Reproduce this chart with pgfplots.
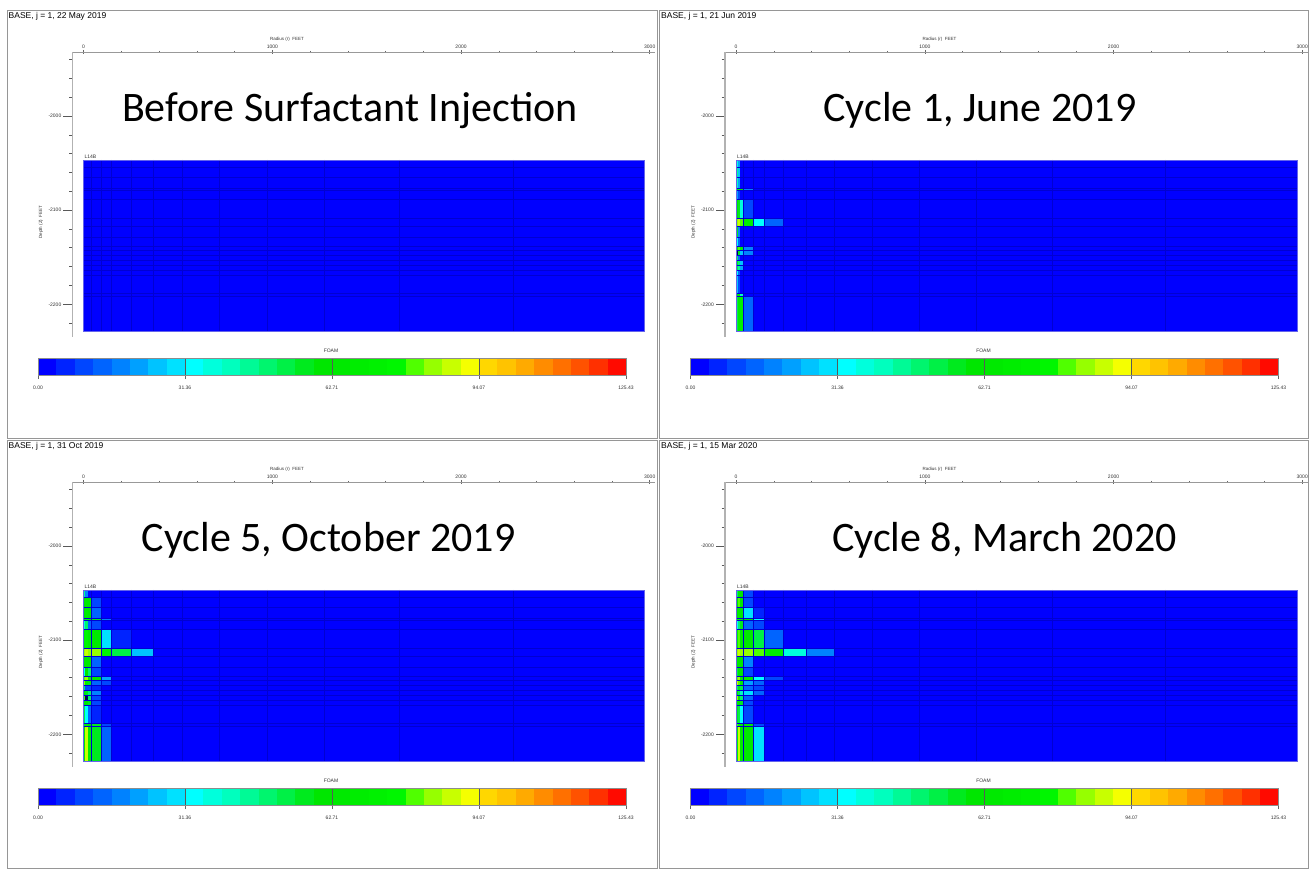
\documentclass[border=0pt]{standalone}
\usepackage{pgfplots}
\pgfplotsset{compat=1.18}
\usepackage{fontspec}
\setmainfont{Liberation Sans}
\newfontfamily\calib{Carlito}

\definecolor{f0}{RGB}{0,0,255}
\definecolor{f1}{RGB}{0,35,255}
\definecolor{f2}{RGB}{0,70,255}
\definecolor{f3}{RGB}{0,100,255}
\definecolor{f4}{RGB}{0,130,255}
\definecolor{f5}{RGB}{0,160,255}
\definecolor{f6}{RGB}{0,195,255}
\definecolor{f7}{RGB}{0,225,255}
\definecolor{f8}{RGB}{0,255,255}
\definecolor{f9}{RGB}{0,255,220}
\definecolor{f10}{RGB}{0,255,190}
\definecolor{f11}{RGB}{0,250,150}
\definecolor{f12}{RGB}{0,245,110}
\definecolor{f13}{RGB}{0,240,70}
\definecolor{f14}{RGB}{0,234,30}
\definecolor{f15}{RGB}{0,230,0}
\definecolor{f16}{RGB}{0,233,0}
\definecolor{f17}{RGB}{0,237,0}
\definecolor{f18}{RGB}{0,241,0}
\definecolor{f19}{RGB}{0,246,0}
\definecolor{f20}{RGB}{80,255,0}
\definecolor{f21}{RGB}{150,255,0}
\definecolor{f22}{RGB}{200,255,0}
\definecolor{f23}{RGB}{245,255,0}
\definecolor{f24}{RGB}{255,215,0}
\definecolor{f25}{RGB}{255,195,0}
\definecolor{f26}{RGB}{255,170,0}
\definecolor{f27}{RGB}{255,140,0}
\definecolor{f28}{RGB}{255,112,0}
\definecolor{f29}{RGB}{255,82,0}
\definecolor{f30}{RGB}{255,48,0}
\definecolor{f31}{RGB}{255,10,0}
\definecolor{f32}{RGB}{0,0,90}
\definecolor{framec}{RGB}{150,150,150}
\definecolor{bordc}{RGB}{100,100,235}
\definecolor{gridc}{RGB}{0,0,210}

% radial cell boundaries (ft)
\def\colb{{0,9,21,39,92,148,250,369,522,720,970,1273,1674,2276,2971}}
% one row of cells: top depth, bottom depth, colour bins from the well outwards
\newcommand{\crow}[3]{%
  \foreach \k [count=\i from 0] in {#3}{%
    \pgfmathsetmacro\xa{\colb[\i]}%
    \pgfmathsetmacro\xb{\colb[\i+1]}%
    \edef\temp{\noexpand\addplot[draw=none,fill=f\k] coordinates {(\xa,#1) (\xb,#1) (\xb,#2) (\xa,#2)};}%
    \temp}}

\newcommand{\gridl}{%
  \pgfplotsinvokeforeach{39,92,148,250,369,522,720,970,1273,1674,2276}{%
    \addplot[gridc, line width=0.3pt] coordinates {(##1,-2046.7) (##1,-2228.7)};}
  \pgfplotsinvokeforeach{-2053.8,-2064.4,-2076.7,-2079.2,-2088.3,-2108.5,-2116.6,-2128.6,-2138.6,-2142.8,-2148.1,-2152.7,-2158.0,-2163.3,-2168.6,-2188.0,-2191.6}{%
    \addplot[gridc, line width=0.3pt] coordinates {(0,##1) (2971,##1)};}}

\newcommand{\cb}[2]{\addplot[draw=none,fill=f#1] coordinates {(#1,0) (#2,0) (#2,1) (#1,1)};}
\newcommand{\colorbins}{\cb{0}{1}\cb{1}{2}\cb{2}{3}\cb{3}{4}\cb{4}{5}\cb{5}{6}\cb{6}{7}\cb{7}{8}%
\cb{8}{9}\cb{9}{10}\cb{10}{11}\cb{11}{12}\cb{12}{13}\cb{13}{14}\cb{14}{15}\cb{15}{16}%
\cb{16}{17}\cb{17}{18}\cb{18}{19}\cb{19}{20}\cb{20}{21}\cb{21}{22}\cb{22}{23}\cb{23}{24}%
\cb{24}{25}\cb{25}{26}\cb{26}{27}\cb{27}{28}\cb{28}{29}\cb{29}{30}\cb{30}{31}\cb{31}{32}}

\pgfplotsset{
  resaxis/.style={
    anchor=north west,
    x=0.1887pt, y=0.9415pt,
    xmin=-59, xmax=3030, ymin=-2234.4, ymax=-1932,
    axis x line*=top, axis y line*=left,
    x axis line style={draw=black!40, line width=0.8pt},
    y axis line style={draw=black!30, line width=1.5pt},
    xtick={0,1000,2000,3000}, xticklabels={0,1000,2000,3000},
    minor xtick={200,400,...,2800},
    ytick={-2200,-2100,-2000}, yticklabels={-2200,-2100,-2000},
    minor ytick={-2220,-2200,...,-1940},
    xtick align=center, ytick align=outside,
    major tick length=9pt, minor tick length=3.5pt,
    xtick style={/pgfplots/major tick length=4.5pt, /pgfplots/minor tick length=2.5pt, black!60, line width=0.5pt},
    ytick style={black!65, line width=0.7pt},
    tick label style={font=\fontsize{5}{6}\selectfont, text=black!80},
    xticklabel style={inner sep=0pt, yshift=-1pt},
    yticklabel style={inner sep=2pt},
  },
  cbaxis/.style={
    anchor=north west, scale only axis, width=588pt, height=17pt,
    xmin=0, xmax=32, ymin=0, ymax=1,
    axis on top, ytick=\empty,
    xtick={0,8,16,24,32}, xticklabels={0.00,31.36,62.71,94.07,125.43},
    xtick pos=left,
    xmajorgrids, grid style={black!65, line width=0.4pt},
    xtick align=outside, major tick length=4pt,
    axis line style={draw=black!45, line width=0.4pt},
    tick style={black!60, line width=0.4pt},
    xticklabel style={font=\fontsize{5}{6}\selectfont, inner sep=2pt, yshift=-5pt, text=black!80},
  },
}

\newcommand{\panel}[4]{%
\begin{axis}[resaxis, at={({(72.5+#1)*1pt},{-(52+#2)*1pt})}]
  \addplot[draw=none, fill=f0] coordinates {(0,-2046.7) (2971,-2046.7) (2971,-2228.7) (0,-2228.7)};
  #4
  \gridl
  \addplot[draw=bordc, line width=0.5pt] coordinates {(0,-2046.7) (2971,-2046.7) (2971,-2228.7) (0,-2228.7) (0,-2046.7)};
  \node[anchor=south west, font=\fontsize{5}{6}\selectfont, inner sep=0.8pt, text=black!80] at (axis cs:0,-2046.7) {L14B};
\end{axis}
\begin{axis}[cbaxis, at={({(38+#1)*1pt},{-(358+#2)*1pt})}]
  \colorbins
\end{axis}
\node[anchor=west, font=\fontsize{8.5}{10}\selectfont, inner sep=0pt] at ({(8.5+#1)*1pt},{-(16+#2)*1pt}) {#3};
\node[font=\fontsize{5}{6}\selectfont, inner sep=0pt, text=black!80] at ({(331+#1)*1pt},{-(351+#2)*1pt}) {FOAM};
\node[font=\fontsize{4.5}{5}\selectfont, inner sep=0pt, text=black!80] at ({(287+#1)*1pt},{-(39+#2)*1pt}) {Radius (r)\ \ FEET};
\node[font=\fontsize{4.5}{5}\selectfont, inner sep=0pt, rotate=90, text=black!80] at ({(41+#1)*1pt},{-(222+#2)*1pt}) {Depth (Z)\ \ FEET};
}

\begin{document}
\begin{tikzpicture}
\fill[white] (0,0) rectangle (1310pt,-870pt);
\useasboundingbox (0,0) rectangle (1310pt,-870pt);
\draw[framec, line width=0.8pt] (7pt,-10pt) rectangle (657pt,-438pt);
\draw[framec, line width=0.8pt] (659pt,-10pt) rectangle (1308pt,-438pt);
\draw[framec, line width=0.8pt] (7pt,-440pt) rectangle (657pt,-868pt);
\draw[framec, line width=0.8pt] (659pt,-440pt) rectangle (1308pt,-868pt);

% Panel 1: before injection
\panel{0}{0}{BASE, j = 1, 22 May 2019}{}

% Panel 2: cycle 1
\panel{652.5}{0}{BASE, j = 1, 21 Jun 2019}{%
  \crow{-2046.7}{-2053.8}{9,5}
  \crow{-2053.8}{-2064.4}{11,6}
  \crow{-2064.4}{-2076.7}{10,5}
  \crow{-2076.7}{-2079.2}{17,19,16,4}
  \crow{-2079.2}{-2088.3}{5,2}
  \crow{-2088.3}{-2108.5}{15,14,9,2}
  \crow{-2108.5}{-2116.6}{21,22,20,17,8,3}
  \crow{-2116.6}{-2128.6}{14,4}
  \crow{-2128.6}{-2138.6}{8,3}
  \crow{-2138.6}{-2142.8}{16,20,18,4}
  \crow{-2142.8}{-2148.1}{32,14,6,4}
  \crow{-2148.1}{-2152.7}{12,3}
  \crow{-2152.7}{-2158.0}{14,12,6}
  \crow{-2158.0}{-2163.3}{13,11,5}
  \crow{-2163.3}{-2168.6}{8,3}
  \crow{-2168.6}{-2188.0}{6,2}
  \crow{-2188.0}{-2191.6}{15,16,10}
  \crow{-2191.6}{-2228.7}{13,17,18,3}
}

% Panel 3: cycle 5
\panel{0}{430}{BASE, j = 1, 31 Oct 2019}{%
  \crow{-2046.7}{-2053.8}{11,4}
  \crow{-2053.8}{-2064.4}{15,16,16,2}
  \crow{-2064.4}{-2076.7}{15,17,16,3}
  \crow{-2076.7}{-2079.2}{19,19,18,14,4}
  \crow{-2079.2}{-2088.3}{9,12,3,2}
  \crow{-2088.3}{-2108.5}{18,19,17,16,7,1}
  \crow{-2108.5}{-2116.6}{21,22,21,21,19,13,6}
  \crow{-2116.6}{-2128.6}{16,16,16,3}
  \crow{-2128.6}{-2138.6}{8,15,12,2}
  \crow{-2138.6}{-2142.8}{20,21,19,16,5}
  \crow{-2142.8}{-2148.1}{21,18,14,3,2}
  \crow{-2148.1}{-2152.7}{12,2,2,1}
  \crow{-2152.7}{-2158.0}{15,14,12,4}
  \crow{-2158.0}{-2163.3}{20,32,12,2}
  \crow{-2163.3}{-2168.6}{16,15,14,2}
  \crow{-2168.6}{-2188.0}{13,8,3,1}
  \crow{-2188.0}{-2191.6}{19,18,16,14,2}
  \crow{-2191.6}{-2228.7}{16,22,17,14,3}
}

% Panel 4: cycle 8
\panel{652.5}{430}{BASE, j = 1, 15 Mar 2020}{%
  \crow{-2046.7}{-2053.8}{12,16,15,2}
  \crow{-2053.8}{-2064.4}{16,20,16,2}
  \crow{-2064.4}{-2076.7}{16,18,16,7,1}
  \crow{-2076.7}{-2079.2}{19,19,17,15,8}
  \crow{-2079.2}{-2088.3}{8,12,14,3,2}
  \crow{-2088.3}{-2108.5}{19,20,17,16,13,3}
  \crow{-2108.5}{-2116.6}{21,22,21,21,20,17,9,4}
  \crow{-2116.6}{-2128.6}{17,16,16,4}
  \crow{-2128.6}{-2138.6}{13,16,15,2}
  \crow{-2138.6}{-2142.8}{20,21,17,17,8,2}
  \crow{-2142.8}{-2148.1}{22,20,17,5,3}
  \crow{-2148.1}{-2152.7}{12,14,13,3,2}
  \crow{-2152.7}{-2158.0}{16,13,10,7,3}
  \crow{-2158.0}{-2163.3}{21,16,12,3}
  \crow{-2163.3}{-2168.6}{18,15,14,2}
  \crow{-2168.6}{-2188.0}{14,13,8,2}
  \crow{-2188.0}{-2191.6}{20,19,17,16,2}
  \crow{-2191.6}{-2228.7}{18,22,17,16,7}
}

\node[font=\calib\fontsize{42}{50}\selectfont, anchor=base, inner sep=0pt] at (350pt,-121.5pt) {Before Surfactant Injection};
\node[font=\calib\fontsize{42}{50}\selectfont, anchor=base, inner sep=0pt] at (980pt,-121.5pt) {Cycle 1, June 2019};
\node[font=\calib\fontsize{42}{50}\selectfont, anchor=base, inner sep=0pt] at (328.5pt,-551.5pt) {Cycle 5, October 2019};
\node[font=\calib\fontsize{42}{50}\selectfont, anchor=base, inner sep=0pt] at (1004.5pt,-551.5pt) {Cycle 8, March 2020};
\end{tikzpicture}
\end{document}
